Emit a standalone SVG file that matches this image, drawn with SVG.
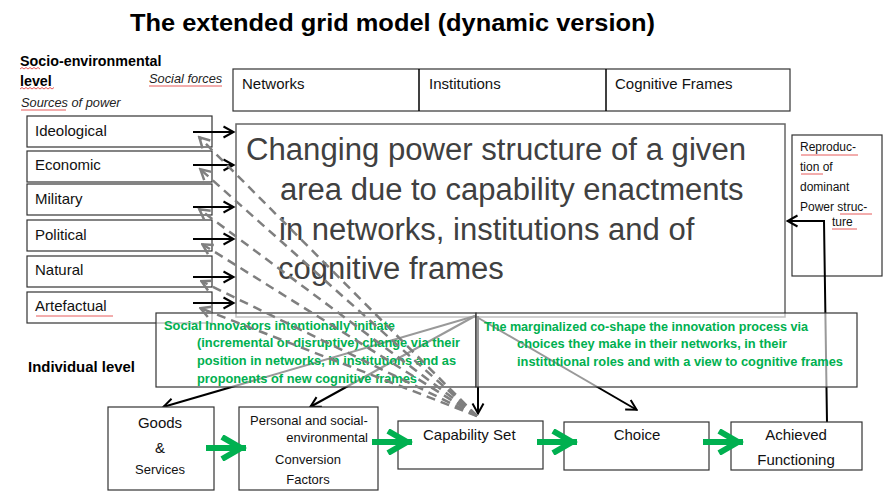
<svg xmlns="http://www.w3.org/2000/svg" width="885" height="494" viewBox="0 0 885 494">
  <style>
    text { font-family: "Liberation Sans", Arial, sans-serif; fill: #000; }
    .title { font-size: 24px; font-weight: bold; }
    .lvl { font-size: 14.3px; font-weight: bold; }
    .ital { font-size: 12.8px; font-style: italic; fill: #222; }
    .cell { font-size: 15px; fill: #111; }
    .src { font-size: 15px; fill: #111; }
    .big { font-size: 31px; fill: #404040; }
    .small { font-size: 12px; fill: #111; }
    .green { font-size: 12px; font-weight: bold; fill: #00B050; }
    .node { font-size: 15px; fill: #111; }
    .node13 { font-size: 13px; fill: #111; }
    .box { fill: #fff; stroke: #333; stroke-width: 1.2; }
    .mainbox { fill: #fff; stroke: #666; stroke-width: 1.5; }
    .veil { fill: #fff; fill-opacity: 0.6; stroke: #333; stroke-width: 1.2; }
    .link { fill: none; stroke: #000; stroke-width: 2; }
    .dash { fill: none; stroke: #7f7f7f; stroke-width: 2.5; stroke-dasharray: 9 6; }
    .flow { fill: none; stroke: #00B050; stroke-width: 6; }
    .squig { fill: none; stroke: #e03030; stroke-width: 0.8; }
  </style>
  <defs>
    <marker id="ah" viewBox="0 0 14 14" refX="12.5" refY="7" markerWidth="14" markerHeight="14" markerUnits="userSpaceOnUse" orient="auto">
      <path d="M2,1.5 L12,7 L2,12.5" fill="none" stroke="#000" stroke-width="2"/>
    </marker>
    <marker id="ahg" viewBox="0 0 14 14" refX="12.5" refY="7" markerWidth="14" markerHeight="14" markerUnits="userSpaceOnUse" orient="auto">
      <path d="M2,1.5 L12,7 L2,12.5" fill="none" stroke="#7f7f7f" stroke-width="2.5"/>
    </marker>
    <marker id="ahgreen" viewBox="0 0 30 26" refX="27" refY="13" markerWidth="30" markerHeight="26" markerUnits="userSpaceOnUse" orient="auto">
      <path d="M3,2 L22,13 L3,24" fill="none" stroke="#00B050" stroke-width="6"/>
    </marker>
  </defs>

  <rect width="885" height="494" fill="#fff"/>

  <!-- headings -->
  <text class="title" x="130" y="31" textLength="525" lengthAdjust="spacingAndGlyphs">The extended grid model (dynamic version)</text>
  <text class="lvl" x="20" y="66">Socio-environmental</text>
  <text class="lvl" x="20" y="86">level</text>
  <text class="ital" x="149" y="83">Social forces</text>
  <text class="ital" x="21" y="107">Sources of power</text>
  <text class="lvl" x="28" y="372" textLength="107" lengthAdjust="spacingAndGlyphs">Individual level</text>

  <!-- social forces table -->
  <g id="social-forces">
    <rect class="box" x="233" y="69" width="557" height="42"/>
    <line x1="419" y1="69" x2="419" y2="111" stroke="#000" stroke-width="1.5"/>
    <line x1="606" y1="69" x2="606" y2="111" stroke="#000" stroke-width="1.5"/>
    <text class="cell" x="242" y="89">Networks</text>
    <text class="cell" x="429" y="89">Institutions</text>
    <text class="cell" x="615" y="89">Cognitive Frames</text>
  </g>

  <!-- sources of power -->
  <g id="src-ideological"><rect class="box" x="27" y="116" width="185" height="31"/><text class="src" x="35" y="136">Ideological</text></g>
  <g id="src-economic"><rect class="box" x="27" y="151" width="185" height="31"/><text class="src" x="35" y="170">Economic</text></g>
  <g id="src-military"><rect class="box" x="27" y="184" width="185" height="31"/><text class="src" x="35" y="204">Military</text></g>
  <g id="src-political"><rect class="box" x="27" y="220" width="185" height="31"/><text class="src" x="35" y="240">Political</text></g>
  <g id="src-natural"><rect class="box" x="27" y="256" width="185" height="31"/><text class="src" x="35" y="275">Natural</text></g>
  <g id="src-artefactual"><rect class="box" x="27" y="292" width="185" height="31"/><text class="src" x="35" y="311">Artefactual</text></g>

  <!-- power structure -->
  <g id="power-structure">
    <rect class="mainbox" x="236" y="124" width="549" height="193"/>
    <text class="big" x="246" y="160" textLength="500" lengthAdjust="spacingAndGlyphs">Changing power structure of a given</text>
    <text class="big" x="280" y="200">area due to capability enactments</text>
    <text class="big" x="279" y="240">in networks, institutions and of</text>
    <text class="big" x="278" y="279">cognitive frames</text>
  </g>

  <!-- reproduction -->
  <g id="reproduction">
    <rect class="box" x="792" y="135" width="90" height="141"/>
    <text class="small" x="800" y="151">Reproduc-</text>
    <text class="small" x="800" y="171">tion of</text>
    <text class="small" x="800" y="191">dominant</text>
    <text class="small" x="800" y="211">Power struc-</text>
    <text class="small" x="832" y="226">ture</text>
  </g>

  <!-- connectors running beneath the translucent text panels -->
  <g id="connectors-under">
    <line class="link" x1="475" y1="316" x2="163" y2="407" marker-end="url(#ah)"/>
    <line class="link" x1="475" y1="316" x2="310" y2="407" marker-end="url(#ah)"/>
    <line class="link" x1="478" y1="316" x2="478" y2="414" marker-end="url(#ah)"/>
    <line class="link" x1="475" y1="316" x2="637" y2="410" marker-end="url(#ah)"/>
    <polyline class="link" points="827,422 824,221 787,221" marker-end="url(#ah)"/>
  </g>

  <!-- actor panels -->
  <g id="innovators">
    <rect class="veil" x="156" y="313" width="320" height="74"/>
    <text class="green" x="164" y="330" textLength="231" lengthAdjust="spacingAndGlyphs">Social Innovators intentionally initiate</text>
    <text class="green" x="197" y="347" textLength="263" lengthAdjust="spacingAndGlyphs">(incremental or disruptive) change via their</text>
    <text class="green" x="197" y="365" textLength="259" lengthAdjust="spacingAndGlyphs">position in networks, in institutions and as</text>
    <text class="green" x="197" y="383" textLength="220" lengthAdjust="spacingAndGlyphs">proponents of new cognitive frames</text>
  </g>
  <g id="marginalized">
    <rect class="veil" x="476" y="313" width="381" height="74"/>
    <text class="green" x="484" y="331" textLength="324" lengthAdjust="spacingAndGlyphs">The marginalized co-shape the innovation process via</text>
    <text class="green" x="517" y="348" textLength="270" lengthAdjust="spacingAndGlyphs">choices they make in their networks, in their</text>
    <text class="green" x="517" y="366" textLength="326" lengthAdjust="spacingAndGlyphs">institutional roles and with a view to cognitive frames</text>
  </g>

  <!-- individual level chain -->
  <g id="goods">
    <rect class="box" x="108" y="407" width="106" height="83"/>
    <text class="node" x="160" y="428" text-anchor="middle">Goods</text>
    <text class="node" x="160" y="453" text-anchor="middle">&amp;</text>
    <text class="node13" x="160" y="474" text-anchor="middle">Services</text>
  </g>
  <g id="conversion">
    <rect class="box" x="239" y="407" width="139" height="83"/>
    <text class="node13" x="250" y="425">Personal and social-</text>
    <text class="node13" x="368" y="442" text-anchor="end">environmental</text>
    <text class="node13" x="308" y="464" text-anchor="middle">Conversion</text>
    <text class="node13" x="308" y="484" text-anchor="middle">Factors</text>
  </g>
  <g id="capability">
    <rect class="box" x="398" y="421" width="145" height="48"/>
    <text class="node" x="423" y="440">Capability Set</text>
  </g>
  <g id="choice">
    <rect class="box" x="564" y="422" width="145" height="48"/>
    <text class="node" x="637" y="440" text-anchor="middle">Choice</text>
  </g>
  <g id="functioning">
    <rect class="box" x="731" y="422" width="131" height="48"/>
    <text class="node" x="796" y="440" text-anchor="middle">Achieved</text>
    <text class="node" x="796" y="465" text-anchor="middle">Functioning</text>
  </g>

  <!-- connectors drawn on top -->
  <g id="connectors">
    <line class="link" x1="193" y1="132" x2="234" y2="132" marker-end="url(#ah)"/>
    <line class="link" x1="193" y1="165" x2="234" y2="165" marker-end="url(#ah)"/>
    <line class="link" x1="193" y1="207" x2="234" y2="207" marker-end="url(#ah)"/>
    <line class="link" x1="193" y1="239" x2="234" y2="239" marker-end="url(#ah)"/>
    <line class="link" x1="193" y1="277" x2="234" y2="277" marker-end="url(#ah)"/>
    <line class="link" x1="193" y1="303" x2="234" y2="303" marker-end="url(#ah)"/>

    <line class="dash" x1="477" y1="416" x2="199" y2="137" marker-end="url(#ahg)"/>
    <line class="dash" x1="477" y1="416" x2="200" y2="169" marker-end="url(#ahg)"/>
    <line class="dash" x1="477" y1="416" x2="199" y2="209" marker-end="url(#ahg)"/>
    <line class="dash" x1="477" y1="416" x2="202" y2="244" marker-end="url(#ahg)"/>
    <line class="dash" x1="477" y1="416" x2="201" y2="281" marker-end="url(#ahg)"/>
    <line class="dash" x1="477" y1="416" x2="200" y2="308" marker-end="url(#ahg)"/>

    <line class="flow" x1="206" y1="448" x2="246" y2="448" marker-end="url(#ahgreen)"/>
    <line class="flow" x1="372" y1="442" x2="412" y2="442" marker-end="url(#ahgreen)"/>
    <line class="flow" x1="537" y1="442" x2="577" y2="442" marker-end="url(#ahgreen)"/>
    <line class="flow" x1="703" y1="442" x2="743" y2="442" marker-end="url(#ahgreen)"/>
  </g>

  <!-- spelling marks -->
  <g id="spelling">
    <path class="squig" d="M20,69 l2,-1.5 l2,1.5 l2,-1.5 l2,1.5 l2,-1.5 l2,1.5 l2,-1.5 l2,1.5 l2,-1.5 l2,1.5"/>
    <path class="squig" d="M20,89 l2,-1.5 l2,1.5 l2,-1.5 l2,1.5 l2,-1.5 l2,1.5 l2,-1.5 l2,1.5 l2,-1.5 l2,1.5 l2,-1.5 l2,1.5 l2,-1.5 l2,1.5 l2,-1.5 l2,1.5 l2,-1.5"/>
    <path class="squig" d="M149,86 h73"/>
    <path class="squig" d="M21,110 h45"/>
    <path class="squig" d="M36,316 h77"/>
    <path class="squig" d="M801,155 h57"/>
    <path class="squig" d="M801,174 h22"/>
    <path class="squig" d="M840,214 h32"/>
    <path class="squig" d="M832,229 h25"/>
  </g>
</svg>
